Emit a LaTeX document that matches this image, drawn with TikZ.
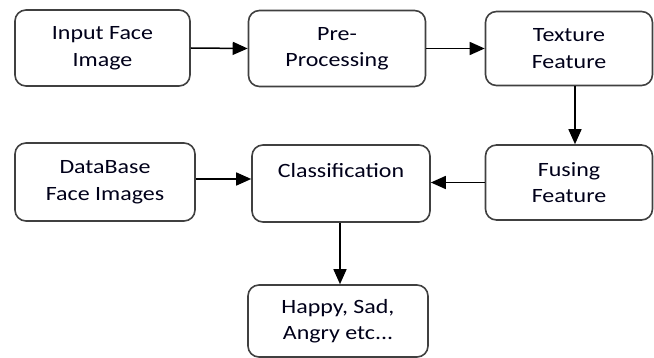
\documentclass[tikz,border=0pt]{standalone}
\usepackage{fontspec}
\setmainfont{Carlito}[FakeStretch=1.18]
\usetikzlibrary{arrows.meta}
\begin{document}
\begin{tikzpicture}[x=1pt,y=-1pt,
  box/.style={draw=black!75, line width=1.6pt, rounded corners=11pt, align=center,
    inner sep=0pt, text=black!90!blue, font=\fontsize{20.3}{26.5}\selectfont},
  arr/.style={draw=black, line width=1.5pt, -{Triangle[length=15pt,width=13pt]}}]
\useasboundingbox (0,0) rectangle (654,358);
\node[box, minimum width=175pt, minimum height=76pt] (inp) at (102.5,48) {Input Face\\Image};
\node[box, minimum width=177pt, minimum height=76pt] (pre) at (337,48.5) {Pre-\\Processing};
\node[box, minimum width=167pt, minimum height=74pt] (tex) at (569,48.5) {Texture\\Feature};
\node[box, minimum width=167pt, minimum height=75pt] (fus) at (569,182.5) {Fusing\\Feature};
\node[box, minimum width=178pt, minimum height=77pt] (cls) at (341,183.5) {Classification\\~};
\node[box, minimum width=180pt, minimum height=78pt] (db) at (105,182) {DataBase\\Face Images};
\node[box, minimum width=180pt, minimum height=72pt] (out) at (338,321) {Happy, Sad,\\Angry etc...};
\draw[arr] (inp.east) -- (pre.west);
\draw[arr] (pre.east) -- (tex.west);
\draw[arr] ([xshift=6pt]tex.south) -- ([xshift=6pt]fus.north);
\draw[arr] (fus.west) -- (fus.west -| cls.east);
\draw[arr] ([yshift=3pt]db.east) -- ([yshift=3pt]db.east -| cls.west);
\draw[arr] ([xshift=-1pt]cls.south) -- ([xshift=-1pt]cls.south |- out.north);
\end{tikzpicture}
\end{document}
